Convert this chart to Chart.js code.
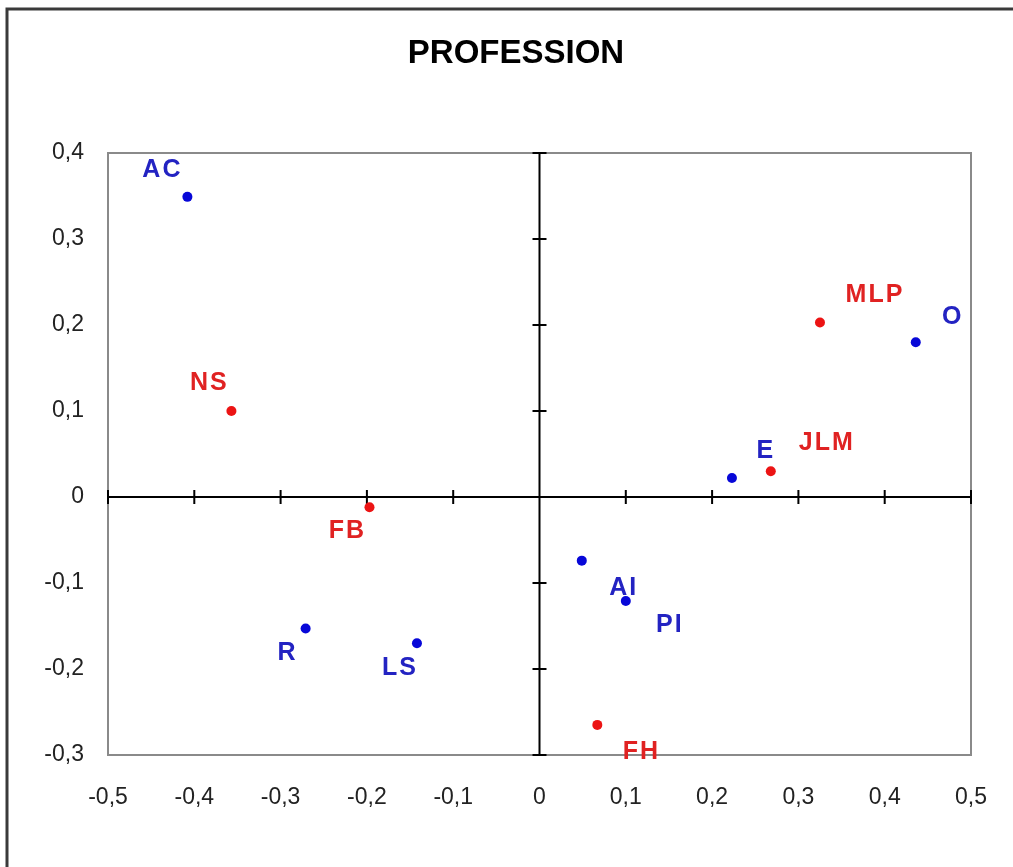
<!DOCTYPE html>
<html>
<head>
<meta charset="utf-8">
<script src="https://cdn.jsdelivr.net/npm/chart.js@4"></script>
<style>
  html, body { margin: 0; padding: 0; background: #fff; }
  #wrap { width: 1013px; height: 867px; position: relative; }
</style>
</head>
<body>
<div id="wrap"><canvas id="myChart"></canvas></div>
<script>
// categories and their coordinates
var chartTitle = 'PROFESSION';
var categories = ['AC', 'NS', 'FB', 'R', 'LS', 'AI', 'PI', 'FH', 'E', 'JLM', 'MLP', 'O'];
var xValues = [-0.408, -0.357, -0.197, -0.271, -0.142, 0.049, 0.100, 0.067, 0.223, 0.268, 0.325, 0.436];
var yValues = [0.349, 0.100, -0.012, -0.153, -0.170, -0.074, -0.121, -0.265, 0.022, 0.030, 0.203, 0.180];
var groups = ['blue', 'red', 'red', 'blue', 'blue', 'blue', 'blue', 'red', 'blue', 'red', 'red', 'blue'];
var xTicks = [-0.5, -0.4, -0.3, -0.2, -0.1, 0, 0.1, 0.2, 0.3, 0.4, 0.5];
var yTicks = [-0.3, -0.2, -0.1, 0, 0.1, 0.2, 0.3, 0.4];

// label placement (pixels from the point), like Excel put them
var labelOffsets = {
    AC: [-26, -27], NS: [-23, -28], FB: [-23, 24], R: [-19, 25], LS: [-18, 25],
    AI: [41, 27], PI: [43, 24], FH: [43, 27], E: [33, -27], JLM: [55, -28],
    MLP: [54, -27], O: [36, -25]
};
var pointColors = { blue: '#0707d8', red: '#ec1414' };
var labelColors = { blue: '#2323c2', red: '#e02222' };
var FONT = '"Liberation Sans", Arial, sans-serif';

function fmt(v) {
    return String(Math.round(v * 10) / 10).replace('.', ',');
}

function buildSet(g) {
    var pts = [];
    for (var i = 0; i < categories.length; i++) {
        if (groups[i] === g) pts.push({ x: xValues[i], y: yValues[i], name: categories[i] });
    }
    return {
        label: g,
        data: pts,
        pointRadius: 5,
        pointHoverRadius: 5,
        pointBackgroundColor: pointColors[g],
        pointBorderWidth: 0,
        showLine: false
    };
}

var decor = {
    id: 'decor',
    beforeDraw: function (chart) {
        var ctx = chart.ctx;
        ctx.save();
        // outer frame (only top and left fall inside the picture)
        ctx.strokeStyle = '#3a3a3a';
        ctx.lineWidth = 3;
        ctx.beginPath();
        ctx.moveTo(7, chart.height);
        ctx.lineTo(7, 9);
        ctx.lineTo(chart.width, 9);
        ctx.stroke();
        // title, centred on the frame rather than the plot
        ctx.fillStyle = '#000';
        ctx.font = 'bold 33px ' + FONT;
        ctx.textAlign = 'center';
        ctx.textBaseline = 'middle';
        ctx.fillText(chartTitle, 516, 54);
        ctx.restore();
    },
    beforeDatasetsDraw: function (chart) {
        var ctx = chart.ctx, a = chart.chartArea;
        var xs = chart.scales.x, ys = chart.scales.y;
        ctx.save();
        ctx.strokeStyle = '#8a8a8a';
        ctx.lineWidth = 2;
        ctx.strokeRect(a.left, a.top, a.right - a.left, a.bottom - a.top);
        var x0 = xs.getPixelForValue(0), y0 = ys.getPixelForValue(0);
        ctx.strokeStyle = '#000';
        ctx.lineWidth = 2;
        ctx.beginPath();
        ctx.moveTo(a.left, y0); ctx.lineTo(a.right, y0);
        ctx.moveTo(x0, a.top); ctx.lineTo(x0, a.bottom);
        xTicks.forEach(function (t) {
            var px = xs.getPixelForValue(t);
            ctx.moveTo(px, y0 - 7); ctx.lineTo(px, y0 + 7);
        });
        yTicks.forEach(function (t) {
            var py = ys.getPixelForValue(t);
            ctx.moveTo(x0 - 7, py); ctx.lineTo(x0 + 7, py);
        });
        ctx.stroke();
        ctx.restore();
    },
    afterDatasetsDraw: function (chart) {
        var ctx = chart.ctx;
        ctx.save();
        ctx.font = 'bold 25px ' + FONT;
        ctx.letterSpacing = '2px';
        ctx.textAlign = 'center';
        ctx.textBaseline = 'middle';
        chart.data.datasets.forEach(function (ds, di) {
            var meta = chart.getDatasetMeta(di);
            meta.data.forEach(function (el, i) {
                var name = ds.data[i].name;
                var off = labelOffsets[name];
                ctx.fillStyle = labelColors[ds.label];
                ctx.fillText(name, el.x + off[0] + 1, el.y + off[1]);
            });
        });
        ctx.restore();
    }
};

var ctx = document.getElementById('myChart').getContext('2d');
var myChart = new Chart(ctx, {
    type: 'scatter',
    data: {
        datasets: [buildSet('blue'), buildSet('red')]
    },
    options: {
        responsive: true,
        maintainAspectRatio: false,
        animation: false,
        layout: { padding: { top: 153, left: 0, right: 42, bottom: 0 } },
        plugins: {
            legend: { display: false },
            tooltip: { enabled: false },
            title: { display: false }
        },
        scales: {
            x: {
                type: 'linear',
                min: -0.5,
                max: 0.5,
                grid: { display: false, drawTicks: false },
                border: { display: false },
                afterFit: function (s) { s.height = 112; s.paddingRight = 0; s.paddingLeft = 0; },
                afterBuildTicks: function (s) { s.ticks = xTicks.map(function (v) { return { value: v }; }); },
                ticks: {
                    padding: 29,
                    color: '#222',
                    maxRotation: 0,
                    font: { family: FONT, size: 23 },
                    callback: fmt
                }
            },
            y: {
                type: 'linear',
                min: -0.3,
                max: 0.4,
                grid: { display: false, drawTicks: false },
                border: { display: false },
                afterFit: function (s) { s.width = 108; s.paddingTop = 0; s.paddingBottom = 0; },
                afterBuildTicks: function (s) { s.ticks = yTicks.map(function (v) { return { value: v }; }); },
                ticks: {
                    padding: 24,
                    color: '#222',
                    font: { family: FONT, size: 23 },
                    callback: fmt
                }
            }
        }
    },
    plugins: [decor]
});
</script>
</body>
</html>
